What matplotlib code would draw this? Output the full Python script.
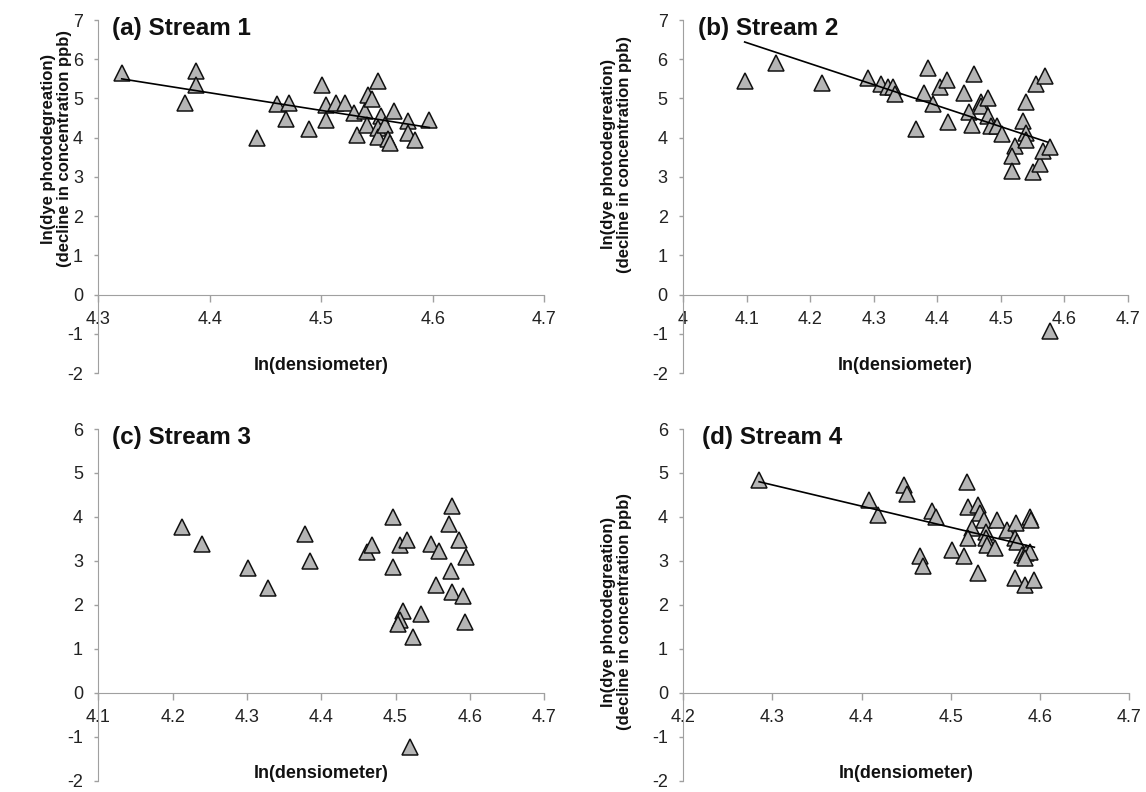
import numpy as np
import matplotlib
matplotlib.use("Agg")
import matplotlib.pyplot as plt
from matplotlib.ticker import FuncFormatter

plt.rcParams['font.family'] = ['Liberation Sans', 'DejaVu Sans']
plt.rcParams['axes.unicode_minus'] = False

# stream 1
s1_x = [4.321, 4.388, 4.388, 4.378, 4.442, 4.460, 4.471, 4.468, 4.489, 4.501, 4.504,
        4.504, 4.513, 4.521, 4.529, 4.532, 4.539, 4.541, 4.542, 4.546, 4.551, 4.554,
        4.551, 4.551, 4.557, 4.560, 4.562, 4.565, 4.578, 4.578, 4.584, 4.597]
s1_y = [5.66, 5.71, 5.34, 4.88, 4.00, 4.85, 4.88, 4.48, 4.22, 5.34, 4.83,
        4.44, 4.88, 4.89, 4.64, 4.07, 4.67, 4.33, 5.09, 4.99, 5.45, 4.56,
        4.24, 4.03, 4.33, 3.96, 3.86, 4.67, 4.43, 4.11, 3.94, 4.45]
s1_trend_x = [4.321, 4.597]
s1_trend_y = [5.50, 4.26]

# stream 2
s2_x = [4.097, 4.147, 4.218, 4.291, 4.312, 4.322, 4.330, 4.333, 4.366, 4.379, 4.386,
        4.394, 4.405, 4.416, 4.417, 4.442, 4.450, 4.454, 4.457, 4.469, 4.468, 4.480,
        4.479, 4.484, 4.494, 4.502, 4.523, 4.517, 4.518, 4.535, 4.540, 4.539, 4.540,
        4.555, 4.551, 4.561, 4.566, 4.569, 4.577, 4.577]
s2_y = [5.45, 5.91, 5.39, 5.51, 5.36, 5.30, 5.28, 5.11, 4.22, 5.15, 5.77,
        4.85, 5.28, 5.46, 4.40, 5.13, 4.66, 4.32, 5.62, 4.90, 4.80, 5.02,
        4.55, 4.30, 4.30, 4.09, 3.79, 3.54, 3.16, 4.43, 4.90, 4.11, 3.94,
        5.36, 3.13, 3.34, 3.66, 5.57, 3.77, -0.93]
s2_trend_x = [4.097, 4.573]
s2_trend_y = [6.44, 3.89]

# stream 3 (no trend line)
s3_x = [4.212, 4.239, 4.301, 4.328, 4.378, 4.385, 4.462, 4.469, 4.497, 4.497, 4.506,
        4.516, 4.548, 4.559, 4.576, 4.572, 4.586, 4.595, 4.575, 4.555, 4.576, 4.591,
        4.594, 4.510, 4.506, 4.504, 4.534, 4.523, 4.520]
s3_y = [3.77, 3.39, 2.83, 2.38, 3.60, 3.00, 3.21, 3.36, 3.99, 2.87, 3.36,
        3.47, 3.39, 3.22, 4.25, 3.84, 3.47, 3.09, 2.78, 2.46, 2.29, 2.20,
        1.61, 1.86, 1.65, 1.57, 1.80, 1.26, -1.24]

# stream 4
s4_x = [4.285, 4.408, 4.418, 4.448, 4.451, 4.479, 4.484, 4.466, 4.469, 4.501, 4.515,
        4.518, 4.520, 4.531, 4.533, 4.538, 4.524, 4.520, 4.531, 4.540, 4.540, 4.541,
        4.550, 4.552, 4.563, 4.573, 4.572, 4.574, 4.572, 4.583, 4.580, 4.585, 4.589,
        4.589, 4.590, 4.594, 4.583]
s4_y = [4.84, 4.38, 4.04, 4.73, 4.53, 4.13, 4.00, 3.10, 2.88, 3.25, 3.10,
        4.79, 4.23, 4.26, 4.08, 3.93, 3.74, 3.53, 2.73, 3.66, 3.51, 3.36,
        3.29, 3.93, 3.70, 3.85, 3.51, 3.44, 2.61, 2.44, 3.14, 3.18, 3.21,
        4.00, 3.93, 2.57, 3.06]
s4_trend_x = [4.285, 4.594]
s4_trend_y = [4.80, 3.31]

titles = ['(a) Stream 1', '(b) Stream 2', '(c) Stream 3', '(d) Stream 4']
xlims = [(4.3, 4.7), (4.0, 4.7), (4.1, 4.7), (4.2, 4.7)]
ylims = [(-2, 7), (-2, 7), (-2, 6), (-2, 6)]
ylab = 'ln(dye photodegreation)\n(decline in concentration ppb)'
xlab = 'ln(densiometer)'

fig = plt.figure(figsize=(11.46, 7.92), dpi=100)
rects = [[0.0858, 0.529, 0.389, 0.4457],
         [0.596, 0.529, 0.3883, 0.4457],
         [0.0858, 0.0145, 0.389, 0.4438],
         [0.5963, 0.0145, 0.3887, 0.4438]]
xs = [s1_x, s2_x, s3_x, s4_x]
ys = [s1_y, s2_y, s3_y, s4_y]
trends = [(s1_trend_x, s1_trend_y), (s2_trend_x, s2_trend_y), None,
          (s4_trend_x, s4_trend_y)]
ylab_pos = [(-0.093, 0.635), (-0.15, 0.62), None, (-0.15, 0.48)]
title_x = [0.03, 0.034, 0.03, 0.042]

grey = '#a0a0a0'
for i in range(4):
    ax = fig.add_axes(rects[i])
    ax.plot(xs[i], ys[i], linestyle='none', marker='^', markersize=12,
            markerfacecolor='#b5b5b5', markeredgecolor='#111111',
            markeredgewidth=1.1, zorder=3)
    if trends[i] is not None:
        ax.plot(trends[i][0], trends[i][1], color='black', lw=1.2, zorder=4)
    ax.set_xlim(*xlims[i])
    ax.set_ylim(*ylims[i])
    ax.set_xticks(np.round(np.arange(xlims[i][0], xlims[i][1] + 0.001, 0.1), 1))
    ax.set_yticks(np.arange(ylims[i][0], ylims[i][1] + 1))
    ax.xaxis.set_major_formatter(FuncFormatter(lambda v, p: '%g' % round(v, 1)))
    for s in ['top', 'right']:
        ax.spines[s].set_visible(False)
    ax.spines['bottom'].set_position(('data', 0))
    ax.spines['bottom'].set_color(grey)
    ax.spines['left'].set_color(grey)
    ax.tick_params(axis='x', direction='out', length=5, width=1, color=grey,
                   labelsize=13, pad=7, labelcolor='#222222')
    ax.tick_params(axis='y', direction='out', length=3, width=1, color=grey,
                   labelsize=13, pad=8, labelcolor='#222222')
    ax.text(title_x[i], 0.975, titles[i], transform=ax.transAxes, fontsize=17.5,
            fontweight='bold', ha='left', va='center', color='#111111')
    ax.text(0.5, 0.02, xlab, transform=ax.transAxes, fontsize=13,
            fontweight='bold', ha='center', va='center', color='#111111')
    if ylab_pos[i] is not None:
        ax.text(ylab_pos[i][0], ylab_pos[i][1], ylab, transform=ax.transAxes,
                fontsize=12, fontweight='bold', ha='center', va='center',
                rotation=90, color='#111111', linespacing=1.1)

fig.savefig('out.png', dpi=100)
